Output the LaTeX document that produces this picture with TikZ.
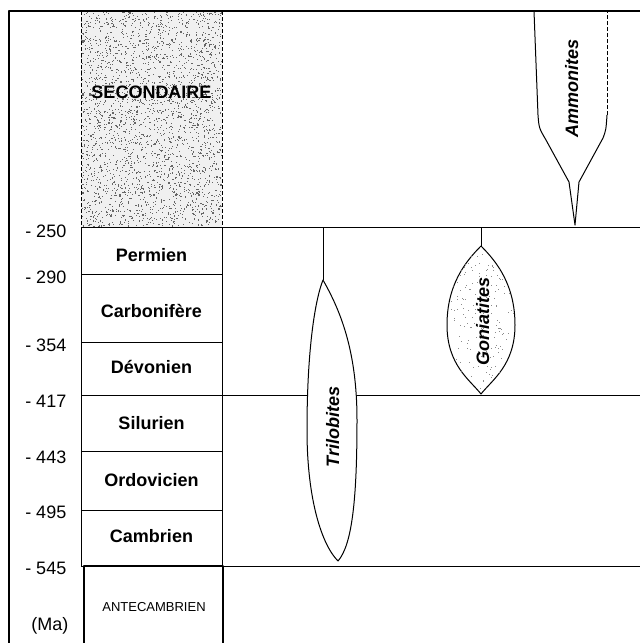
\documentclass[tikz,border=0pt]{standalone}
\usepackage{fontspec}
\setmainfont{Liberation Sans}
\begin{document}
\begin{tikzpicture}[x=0.75pt,y=-0.75pt,line join=round,
  thinline/.style={line width=0.75pt},
  heavy/.style={line width=1.2pt},
  dashline/.style={line width=0.75pt,dash pattern=on 3pt off 1.5pt},
  period/.style={font=\bfseries\fontsize{13.5}{14}\selectfont,anchor=base,inner sep=0pt},
  age/.style={font=\fontsize{13.5}{14}\selectfont,anchor=base west,inner sep=0pt},
  taxon/.style={font=\bfseries\itshape\fontsize{13.5}{14}\selectfont,rotate=90,anchor=base,inner sep=0pt},
  stipple/.style={black!60}]
\useasboundingbox (0,0) rectangle (640,643);
% stippled secondaire column
\fill[gray!12] (81,11) rectangle (222,227);
\pgfmathsetseed{12}
\foreach \i in {1,...,2600} {\fill[stipple] ({81+140*rnd},{11+215*rnd}) rectangle ++(1.1,1.1);}
% frame
\draw[heavy] (9,643) -- (9,11) -- (640,11);
% column
\draw[dashline] (81,11) -- (81,227);
\draw[dashline] (222,11) -- (222,227);
\draw[thinline] (81,227) -- (81,566);
\draw[thinline] (222,227) -- (222,566);
\draw[thinline] (81,227) -- (640,227);
\draw[thinline] (81,274) -- (222,274);
\draw[thinline] (81,342) -- (222,342);
\draw[thinline] (81,395) -- (640,395);
\draw[thinline] (81,451) -- (222,451);
\draw[thinline] (81,510) -- (222,510);
\draw[thinline] (81,566) -- (640,566);
\draw[heavy] (84,643) -- (84,566) -- (223,566) -- (223,643);
% Trilobites
\draw[thinline] (323,227) -- (323,280);
\filldraw[thinline,fill=white] (323,280) .. controls (340,310) and (357,350) .. (357,420)
  .. controls (357,500) and (352,545) .. (338,561)
  .. controls (322,545) and (307,500) .. (307,430)
  .. controls (307,350) and (315,300) .. (323,280) -- cycle;
% Goniatites
\draw[thinline] (481,227) -- (481,246);
\filldraw[thinline,fill=white] (481,246) .. controls (465,262) and (447,285) .. (447,325)
  .. controls (447,365) and (470,380) .. (481,394)
  .. controls (492,380) and (515,365) .. (515,325)
  .. controls (515,285) and (497,262) .. (481,246) -- cycle;
\begin{scope}
\clip (481,246) .. controls (465,262) and (447,285) .. (447,325)
  .. controls (447,365) and (470,380) .. (481,394)
  .. controls (492,380) and (515,365) .. (515,325)
  .. controls (515,285) and (497,262) .. (481,246) -- cycle;
\foreach \i in {1,...,220} {\fill[black!45] ({447+68*rnd},{246+148*rnd}) rectangle ++(1,1);}
\end{scope}
% Ammonites
\draw[thinline] (534,11) -- (538,115) .. controls (539,128) .. (546,140) -- (569,182) -- (575,225) -- (579,182) -- (603,138) .. controls (606,130) .. (607,115);
\draw[dashline] (607,115) -- (607,11);
% texts
\node[period] (sec) at (151.5,98) {SECONDAIRE};
\node[period] (perm) at (151.5,261) {Permien};
\node[period] (carb) at (151.5,317) {Carbonifère};
\node[period] (dev) at (151.5,373) {Dévonien};
\node[period] (sil) at (151.5,429) {Silurien};
\node[period] (ord) at (151.5,486) {Ordovicien};
\node[period] (camb) at (151.5,542) {Cambrien};
\node[anchor=base,inner sep=0pt,font=\fontsize{9.75}{11}\selectfont] (ante) at (154,611) {ANTECAMBRIEN};
\node[age] (a250) at (25,237) {- 250};
\node[age] (a290) at (25,283) {- 290};
\node[age] (a354) at (25,351) {- 354};
\node[age] (a417) at (25,407) {- 417};
\node[age] (a443) at (25,463) {- 443};
\node[age] (a495) at (25,518) {- 495};
\node[age] (a545) at (25,574) {- 545};
\node[age] (ma) at (31,630) {(Ma)};
\node[taxon] (tri) at (339,427) {Trilobites};
\node[taxon] (gon) at (489,321) {Goniatites};
\node[taxon] (amm) at (578,88) {Ammonites};
\end{tikzpicture}
\end{document}
